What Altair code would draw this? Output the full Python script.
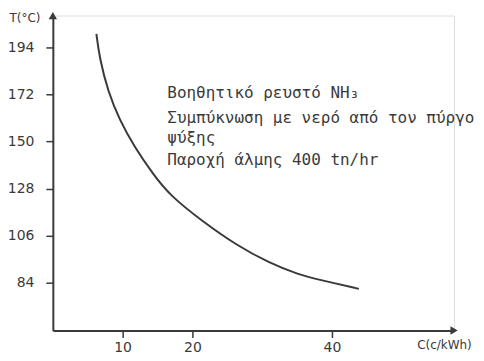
import altair as alt
import pandas as pd

# Curve
cost = [6.24, 6.71, 7.90, 9.57, 11.71, 14.29, 16.71, 21.47, 26.24, 31.0, 35.29, 38.14, 43.86]
temp = [200.4, 188.8, 173.5, 160.0, 147.5, 135.1, 125.0, 112.6, 101.7, 93.2, 87.7, 85.4, 81.1]

y_ticks = [84, 106, 128, 150, 172, 194]
x_ticks = [10, 20, 40]
x_dom = [0, 57.5]
y_dom = [61.6, 209]

notes = [
    "Βοηθητικό ρευστό NH₃",
    "Συμπύκνωση με νερό από τον πύργο",
    "ψύξης",
    "Παροχή άλμης 400 tn/hr",
]
note_x = [16.4, 16.4, 16.4, 16.4]
note_y = [172.6, 160.9, 151.6, 141.3]

INK = "#3a3a3a"
FONT = "DejaVu Sans"

curve_df = pd.DataFrame({"C": cost, "T": temp})
notes_df = pd.DataFrame({"x": note_x, "y": note_y, "t": notes})

xs = alt.Scale(domain=x_dom, nice=False, zero=False)
ys = alt.Scale(domain=y_dom, nice=False, zero=False)

curve = alt.Chart(curve_df).mark_line(
    color=INK, strokeWidth=2, interpolate="basis"
).encode(
    x=alt.X("C:Q", scale=xs, axis=alt.Axis(
        values=x_ticks, title="C(c/kWh)", titleAngle=0, titleAlign="left",
        titleBaseline="middle", titleX=365, titleY=14, titleFontSize=12,
        titleFontWeight="normal", titleColor=INK, titleFont=FONT,
        labelFontSize=14, labelColor=INK, labelFont=FONT, labelPadding=3,
        tickSize=7, tickColor=INK, tickWidth=1.5, domainColor=INK,
        domainWidth=2, grid=False)),
    y=alt.Y("T:Q", scale=ys, axis=alt.Axis(
        values=y_ticks, title="T(°C)", titleAngle=0, titleAlign="left",
        titleBaseline="middle", titleX=-44, titleY=2, titleFontSize=12,
        titleFontWeight="normal", titleColor=INK, titleFont=FONT,
        labelFontSize=14, labelColor=INK, labelFont=FONT, labelPadding=12,
        tickSize=7, tickColor=INK, tickWidth=1.5, domainColor=INK,
        domainWidth=2, grid=False)),
)

text = alt.Chart(notes_df).mark_text(
    align="left", baseline="middle", font="DejaVu Sans Mono", fontSize=16,
    color=INK
).encode(x=alt.X("x:Q", scale=xs), y=alt.Y("y:Q", scale=ys), text="t:N")

arrow_up = alt.Chart(pd.DataFrame({"x": [x_dom[0]], "y": [y_dom[1]]})).mark_point(
    shape="triangle-up", filled=True, size=70, color=INK, opacity=1
).encode(x=alt.X("x:Q", scale=xs), y=alt.Y("y:Q", scale=ys))

arrow_right = alt.Chart(pd.DataFrame({"x": [x_dom[1]], "y": [y_dom[0]]})).mark_point(
    shape="triangle-right", filled=True, size=70, color=INK, opacity=1
).encode(x=alt.X("x:Q", scale=xs), y=alt.Y("y:Q", scale=ys))

chart = alt.layer(curve, text, arrow_up, arrow_right).properties(
    width=402.5, height=316,
    autosize=alt.AutoSizeParams(type="none"),
    padding={"left": 45, "top": 7, "right": 22, "bottom": 30},
).configure_view(stroke=None).configure(background="white")

chart.save("out.html", embed_options={"renderer": "svg", "actions": False})
